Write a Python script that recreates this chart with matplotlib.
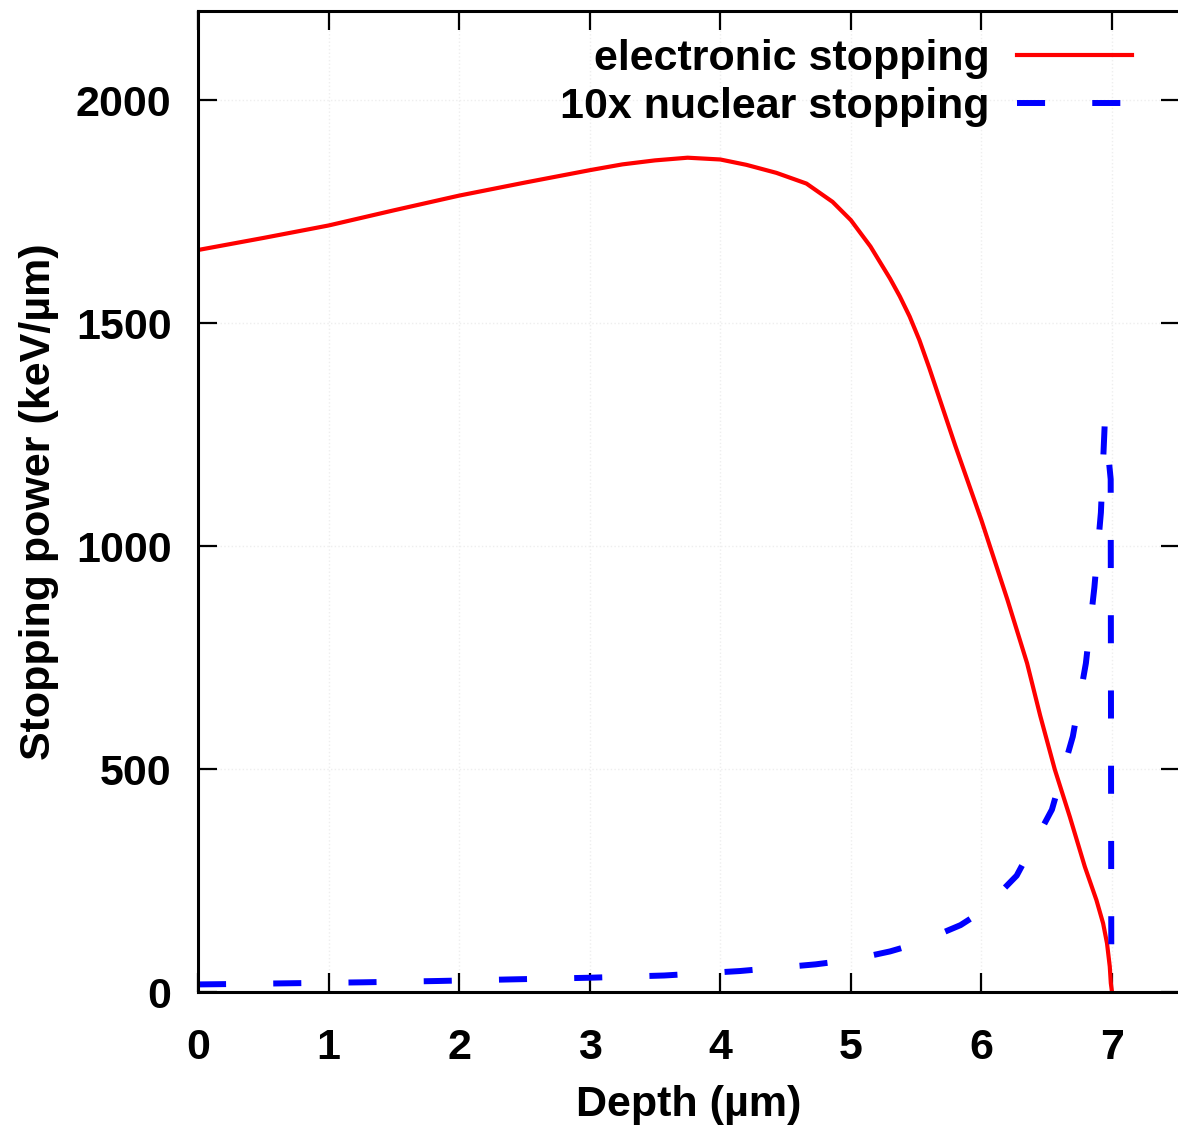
import matplotlib
matplotlib.use("Agg")
import matplotlib.pyplot as plt

plt.rcParams['font.family'] = ['Liberation Sans', 'DejaVu Sans']
plt.rcParams['font.weight'] = 'bold'

# Electronic stopping (keV/um) vs depth (um)
depth_e = [0.0, 0.5, 1.0, 1.5, 2.0, 2.5, 3.0, 3.25, 3.5, 3.75, 4.0, 4.2, 4.43,
           4.66, 4.86, 5.0, 5.15, 5.3, 5.375, 5.45, 5.525, 5.6, 5.8, 6.0, 6.2,
           6.35, 6.45, 6.562, 6.677, 6.792, 6.881, 6.932, 6.962, 6.983, 6.991, 7.0]
elec = [1664, 1691, 1719, 1753, 1786, 1815, 1843, 1856, 1865, 1871, 1867, 1855,
        1837, 1813, 1772, 1731, 1672, 1600, 1560, 1515, 1462, 1400, 1225, 1058,
        879, 737, 620, 499, 393, 281, 206, 154, 109, 57, 20, 0]

# 10x nuclear stopping (keV/um) vs depth (um)
depth_n = [0.0, 0.3, 0.68, 1.26, 1.84, 2.42, 3.0, 3.57, 4.15, 4.73, 5.0, 5.3,
           5.5, 5.84, 6.0, 6.27, 6.54, 6.70, 6.80, 6.865, 6.915, 6.945, 6.965,
           6.99, 6.995]
nucl10 = [17, 18, 19.5, 21.7, 24.7, 28.4, 32, 37, 47, 62, 72, 91,
          108, 150, 180, 261, 409, 573, 737, 907, 1075, 1278, 1225,
          1150, 0]

labels = ["electronic stopping", "10x nuclear stopping"]
xticks = [0, 1, 2, 3, 4, 5, 6, 7]
yticks = [0, 500, 1000, 1500, 2000]

W, H = 1178, 1131
fig = plt.figure(figsize=(W / 100, H / 100), dpi=100)
ax = fig.add_axes([198 / W, (H - 992) / H, 982 / W, 981 / H])

ax.plot(depth_e, elec, color='#ff0000', lw=3.0, label=labels[0], solid_joinstyle='round')
ax.plot(depth_n, nucl10, color='#0000ff', lw=4.3, dashes=(4.7, 7.9),
        label=labels[1], dash_capstyle='butt')

ax.set_xlim(0, 982 / 130.57)
ax.set_ylim(0, 2200)
ax.set_xticks(xticks)
ax.set_yticks(yticks)
ax.grid(True, color='#eeeeee', linestyle=':', linewidth=1.0)
ax.set_axisbelow(True)

for s in ax.spines.values():
    s.set_linewidth(2.2)
ax.tick_params(axis='both', direction='in', length=14, width=1.6,
               top=True, right=True, labelsize=31)
ax.tick_params(axis='x', pad=26)
ax.tick_params(axis='y', pad=19)
for lab in ax.get_xticklabels() + ax.get_yticklabels():
    lab.set_fontweight('bold')

ax.set_xlabel("Depth (µm)", fontsize=31, fontweight='bold', labelpad=12)
ax.set_ylabel("Stopping power (keV/µm)", fontsize=31, fontweight='bold', labelpad=12)

leg = ax.legend(loc='upper right', bbox_to_anchor=(0.951, 0.971), frameon=False,
                markerfirst=False, fontsize=31, handlelength=2.67,
                handletextpad=0.63, labelspacing=0.17, borderaxespad=0,
                borderpad=0)
for t in leg.get_texts():
    t.set_fontweight('bold')

fig.savefig("out.png", dpi=100)
